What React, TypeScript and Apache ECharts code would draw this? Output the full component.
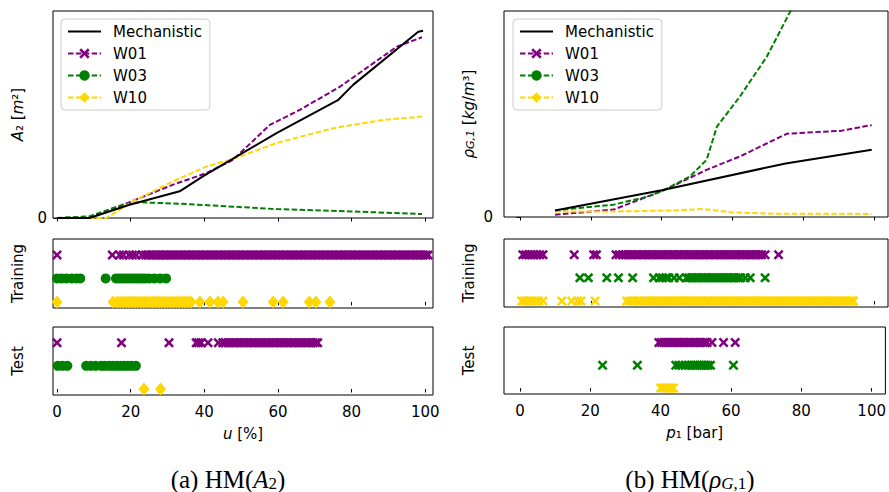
import React, { useEffect, useRef } from "react";
import * as echarts from "echarts";

// ---------- top-left: A2 vs u ----------
const mechA_x = [0, 8.8, 19.7, 33.3, 39.6, 59.6, 76.4, 80.4, 98.1, 99.4];
const mechA_y = [0, 0, 6.4, 12.9, 20.1, 41, 57.1, 64.3, 90, 90.5];
const w01A_x = [0, 9, 15, 20.2, 31.5, 40.6, 47.8, 57.8, 66, 76.9, 92.3, 99.1];
const w01A_y = [0, 0.3, 4, 8, 16.1, 21.7, 28.1, 45, 52.3, 63.5, 82.8, 87.3];
const w03A_x = [0, 8.8, 17.8, 22.3, 33.3, 59.6, 79.6, 99.1];
const w03A_y = [0, 0.8, 6.4, 7.6, 6.9, 4.3, 3.2, 1.9];
const w10A_x = [0, 13.4, 20.6, 31.5, 40.6, 47.8, 59.6, 75, 88.6, 99.1];
const w10A_y = [0, 0, 8, 17.7, 24.9, 28.5, 36.2, 43.4, 47.4, 49];

// ---------- top-right: rho vs p1 ----------
const mechB_x = [9.9, 40, 75, 99.3];
const mechB_y = [3.2, 13, 26, 32.6];
const w01B_x = [9.9, 26.4, 40.5, 52.7, 62.1, 75.3, 81, 90.4, 99.3];
const w01B_y = [1.1, 3.6, 12.9, 22.9, 29.4, 40.4, 41, 41.8, 44.6];
const w03B_x = [9.9, 26.4, 36.3, 40.5, 48, 52.7, 55.6, 62.1, 69.7, 76.3, 82];
const w03B_y = [3.2, 6, 10, 12.9, 19.7, 27.8, 43.9, 58.5, 77.9, 99.7, 115];
const w10B_x = [9.9, 24.5, 43.3, 51.8, 59.3, 71.6, 99.3];
const w10B_y = [2.7, 2.6, 3.2, 3.9, 2.3, 1.6, 1.5];

// ---------- scatter rows (left: u) ----------
const trainA_W01 = [0, 15, 17, 18, 19.5, 20.5, 21.5, 23, 24, 24.6, 25.3, 26, 26.7, 27.4, 28.1, 28.8, 29.5, 30.2, 30.9, 31.6, 32.3, 33, 33.7, 34.4, 35.1, 35.8, 36.5, 37.2, 37.9, 38.6, 39.3, 40, 40.7, 41.4, 42.1, 42.8, 43.5, 44.2, 44.9, 45.6, 46.3, 47, 47.7, 48.4, 49.1, 49.8, 50.5, 51.2, 51.9, 52.6, 53.3, 54, 54.7, 55.4, 56.1, 56.8, 57.5, 58.2, 58.9, 59.6, 60.3, 61, 61.7, 62.4, 63.1, 63.8, 64.5, 65.2, 65.9, 66.6, 67.3, 68, 68.7, 69.4, 70.1, 70.8, 71.5, 72.2, 72.9, 73.6, 74.3, 75, 75.7, 76.4, 77.1, 77.8, 78.5, 79.2, 79.9, 80.6, 81.3, 82, 82.7, 83.4, 84.1, 84.8, 85.5, 86.2, 86.9, 87.6, 88.3, 89, 89.7, 90.4, 91.1, 91.8, 92.5, 93.2, 93.9, 94.6, 95.3, 96, 96.7, 97.4, 98.1, 98.8, 99.5, 100.2, 100.8];
const trainA_W03 = [0, 1.2, 2.5, 4, 5.3, 6.3, 13.2, 16, 16.8, 17.6, 18.4, 19.2, 20, 20.8, 21.6, 22.4, 23.2, 24, 25, 26.4, 28, 29.6];
const trainA_W10 = [0, 15.2, 16.4, 17.2, 18, 18.8, 19.6, 20.4, 21.2, 22, 22.8, 23.6, 24.4, 25.2, 26, 26.8, 27.6, 28.4, 29.2, 30, 30.8, 31.6, 32.4, 33.2, 34, 34.8, 35.6, 36.4, 38.8, 41.5, 43.7, 45.1, 50.5, 58.7, 61.4, 68.5, 70.3, 74.1];
const testA_W01 = [0, 17.5, 30.4, 37.8, 38.4, 39.1, 41, 43.8, 45, 45.7, 46.4, 47.1, 47.8, 48.5, 49.2, 49.9, 50.6, 51.3, 52, 52.7, 53.4, 54.1, 54.8, 55.5, 56.2, 56.9, 57.6, 58.3, 59, 59.7, 60.4, 61.1, 61.8, 62.5, 63.2, 63.9, 64.6, 65.3, 66, 66.7, 67.4, 68.1, 68.8, 69.5, 70.2, 70.8];
const testA_W03 = [0.2, 1.5, 2.8, 7.9, 9.2, 10.5, 12, 13, 14.2, 15.2, 16.2, 17.2, 18.2, 19.2, 20.2, 21.4];
const testA_W10 = [23.6, 28.1];

// ---------- scatter rows (right: p1) ----------
const trainB_W01 = [0.8, 1.6, 2.4, 3.2, 4, 4.8, 5.6, 6.5, 15.3, 20.8, 21.6, 27.1, 28, 29, 29.7, 30.4, 31.1, 31.8, 32.5, 33.2, 33.9, 34.6, 35.3, 36, 36.7, 37.4, 38.1, 38.8, 39.5, 40.2, 40.9, 41.6, 42.3, 43, 43.7, 44.4, 45.1, 45.8, 46.5, 47.2, 47.9, 48.6, 49.3, 50, 50.7, 51.4, 52.1, 52.8, 53.5, 54.2, 54.9, 55.6, 56.3, 57, 57.7, 58.4, 59.1, 59.8, 60.5, 61.2, 61.9, 62.6, 63.3, 64, 64.7, 65.4, 66.1, 66.8, 67.5, 68.2, 69.2, 73];
const trainB_W03 = [16.9, 19.3, 24.5, 27.8, 31.8, 37.7, 39.3, 40.2, 41.2, 42, 43.5, 45, 47, 47.7, 48.4, 49.1, 49.8, 50.5, 51.2, 51.9, 52.6, 53.3, 54, 54.7, 55.4, 56.1, 56.8, 57.5, 58.2, 58.9, 59.6, 60.3, 61, 61.7, 62.3, 63.6, 65, 69.2];
const trainB_W10 = [0.5, 1.2, 2, 2.8, 3.6, 4.4, 5.2, 6.5, 11.8, 14.6, 16.2, 17.2, 21.2, 30.1, 31, 31.8, 32.5, 33.3, 34, 35, 35.7, 36.4, 37.1, 37.8, 38.5, 39.2, 39.9, 40.6, 41.3, 42, 42.7, 43.4, 44.1, 44.8, 45.5, 46.2, 46.9, 47.6, 48.3, 49, 49.7, 50.4, 51.1, 51.8, 52.5, 53.2, 53.9, 54.6, 55.3, 56, 56.7, 57.4, 58.1, 58.8, 59.5, 60.2, 60.9, 61.6, 62.3, 63, 63.7, 64.4, 65.1, 65.8, 66.5, 67.2, 67.9, 68.6, 69.3, 70, 70.7, 71.4, 72.1, 72.8, 73.5, 74.2, 74.9, 75.6, 76.3, 77, 77.7, 78.4, 79.1, 79.8, 80.5, 81.2, 81.9, 82.6, 83.3, 84, 84.7, 85.4, 86.1, 86.8, 87.5, 88.2, 88.9, 89.6, 90.3, 91, 91.7, 92.4, 93.1, 93.7, 94.2];
const testB_W01 = [39.5, 40.2, 40.9, 41.6, 42.3, 43, 43.7, 44.4, 45.1, 45.8, 46.5, 47.2, 47.9, 48.6, 49.3, 50, 50.7, 51.4, 52.1, 52.7, 53.2, 54.6, 57.9, 61.2];
const testB_W03 = [23.5, 33.4, 44.3, 45.2, 46, 47, 48, 48.7, 49.3, 49.9, 50.5, 51.1, 51.7, 52.3, 52.9, 53.5, 54.2, 60.7];
const testB_W10 = [40, 40.6, 41.2, 41.8, 42.4, 43, 43.6];

const xTicks = [0, 20, 40, 60, 80, 100];
const legendNames = ["Mechanistic", "W01", "W03", "W10"];

const PURPLE = "#800080";
const GREEN = "#008000";
const GOLD = "#FFD700";
const FONT = "DejaVu Sans";
const XSYM = "path://M0,1.8L1.8,0L5,3.2L8.2,0L10,1.8L6.8,5L10,8.2L8.2,10L5,6.8L1.8,10L0,8.2L3.2,5Z";
const DASH = [5.5, 2.4];

const zip = (xs: number[], ys: number[]) => xs.map((x, i) => [x, ys[i]]);
const row = (xs: number[], y: number) => xs.map((x) => [x, y]);

export default function App() {
  const ref = useRef<HTMLDivElement>(null);
  useEffect(() => {
    if (!ref.current) return;
    const chart = echarts.init(ref.current, undefined, { renderer: "svg" });

    const grids = [
      { left: 53, top: 11, width: 380, height: 207 },
      { left: 53, top: 239, width: 380, height: 69 },
      { left: 53, top: 327, width: 380, height: 68 },
      { left: 504, top: 11, width: 384, height: 206 },
      { left: 504, top: 239, width: 384, height: 68 },
      { left: 504, top: 327, width: 384, height: 67 },
    ].map((g) => ({ ...g, show: true, borderColor: "#000", borderWidth: 1, backgroundColor: "transparent" }));

    const mkX = (gi: number, min: number, max: number, labels: boolean, name?: string) => ({
      type: "value",
      gridIndex: gi,
      min,
      max,
      axisLine: { show: false },
      splitLine: { show: false },
      axisTick: { show: true, length: 3.5, lineStyle: { color: "#000", width: 1 }, customValues: xTicks },
      axisLabel: { show: labels, customValues: xTicks, fontSize: 15, color: "#000", fontFamily: FONT, margin: 9 },
      name: name || "",
      nameLocation: "middle",
      nameGap: 31,
      nameTextStyle: {
        fontSize: 15,
        color: "#000",
        fontFamily: FONT,
        rich: { i: { fontStyle: "italic", fontSize: 15, fontFamily: FONT, color: "#000" } },
      },
    });

    const richName = {
      fontSize: 15,
      color: "#000",
      fontFamily: FONT,
      rich: {
        i: { fontStyle: "italic", fontSize: 15, fontFamily: FONT, color: "#000" },
        sub: { fontStyle: "italic", fontSize: 11, fontFamily: FONT, color: "#000", verticalAlign: "bottom" },
      },
    };

    const mkYTop = (gi: number, name: string, margin: number) => ({
      type: "value",
      gridIndex: gi,
      min: 0,
      max: 100,
      axisLine: { show: false },
      splitLine: { show: false },
      axisTick: { show: true, length: 3.5, lineStyle: { color: "#000" }, customValues: [0] },
      axisLabel: { show: true, customValues: [0], fontSize: 15, color: "#000", fontFamily: FONT, margin },
      name,
      nameLocation: "middle",
      nameRotate: 90,
      nameGap: 28,
      nameTextStyle: richName,
    });

    const mkYRow = (gi: number, name: string) => ({
      type: "value",
      gridIndex: gi,
      min: -0.26,
      max: 2.68,
      axisLine: { show: false },
      splitLine: { show: false },
      axisTick: { show: false },
      axisLabel: { show: false },
      name,
      nameLocation: "middle",
      nameRotate: 90,
      nameGap: 28,
      nameTextStyle: { fontSize: 15, color: "#000", fontFamily: FONT },
    });

    const line = (name: string, xi: number, data: number[][], color: string, symbol: string, dashed: boolean) => ({
      type: "line",
      name,
      xAxisIndex: xi,
      yAxisIndex: xi,
      data,
      symbol,
      showSymbol: false,
      symbolSize: 10,
      clip: true,
      lineStyle: { color, width: 2, type: dashed ? DASH : "solid" },
      itemStyle: { color: name === "Mechanistic" ? "rgba(0,0,0,0)" : color },
      emphasis: { disabled: true },
      z: name === "Mechanistic" ? 3 : 2,
    });

    const scat = (name: string, gi: number, data: number[][], color: string, symbol: string, size: any) => ({
      type: "scatter",
      name,
      xAxisIndex: gi,
      yAxisIndex: gi,
      data,
      symbol,
      symbolSize: size,
      itemStyle: { color, opacity: 1 },
      emphasis: { disabled: true },
    });

    const legendBase = {
      orient: "vertical",
      data: legendNames,
      top: 19,
      padding: [5, 8, 5, 6],
      itemGap: 7,
      itemWidth: 33,
      itemHeight: 13,
      backgroundColor: "rgba(255,255,255,0.85)",
      borderColor: "#cccccc",
      borderWidth: 1,
      borderRadius: 4,
      selectedMode: false,
      textStyle: { fontSize: 15, color: "#000", fontFamily: FONT, padding: [0, 0, 0, 7] },
    };

    const capStyle = (text: string, x: number) => ({
      type: "text",
      x,
      y: 479,
      style: {
        text,
        fontFamily: "Liberation Serif",
        fontSize: 25,
        fill: "#000",
        align: "center",
        verticalAlign: "middle",
        rich: {
          i: { fontStyle: "italic", fontFamily: "Liberation Serif", fontSize: 25, fill: "#000" },
          s: { fontFamily: "Liberation Serif", fontSize: 17, fill: "#000", verticalAlign: "bottom" },
          si: { fontStyle: "italic", fontFamily: "Liberation Serif", fontSize: 17, fill: "#000", verticalAlign: "bottom" },
        },
      },
    });

    chart.setOption({
      animation: false,
      backgroundColor: "#fff",
      grid: grids,
      xAxis: [
        mkX(0, -1.1, 102.1, false),
        mkX(1, -1.1, 102.1, false),
        mkX(2, -1.1, 102.1, true, "{i|u} [%]"),
        mkX(3, -4.52, 103.9, false),
        mkX(4, -4.52, 103.9, false),
        mkX(5, -4.52, 103.9, true, "{i|p}₁ [bar]"),
      ],
      yAxis: [
        mkYTop(0, "{i|A}₂ [{i|m}²]", 6),
        mkYRow(1, "Training"),
        mkYRow(2, "Test"),
        mkYTop(3, "{i|ρ}{sub|G,1} [{i|kg}/{i|m}³]", 11),
        mkYRow(4, "Training"),
        mkYRow(5, "Test"),
      ],
      legend: [
        { ...legendBase, left: 61 },
        { ...legendBase, left: 513 },
      ],
      series: [
        line("Mechanistic", 0, zip(mechA_x, mechA_y), "#000", "none", false),
        line("W01", 0, zip(w01A_x, w01A_y), PURPLE, XSYM, true),
        line("W03", 0, zip(w03A_x, w03A_y), GREEN, "circle", true),
        line("W10", 0, zip(w10A_x, w10A_y), GOLD, "diamond", true),
        line("Mechanistic", 3, zip(mechB_x, mechB_y), "#000", "none", false),
        line("W01", 3, zip(w01B_x, w01B_y), PURPLE, XSYM, true),
        line("W03", 3, zip(w03B_x, w03B_y), GREEN, "circle", true),
        line("W10", 3, zip(w10B_x, w10B_y), GOLD, "diamond", true),

        scat("a-train-W01", 1, row(trainA_W01, 2), PURPLE, XSYM, 10),
        scat("a-train-W03", 1, row(trainA_W03, 1), GREEN, "circle", 10),
        scat("a-train-W10", 1, row(trainA_W10, 0), GOLD, "diamond", [11, 13]),
        scat("a-test-W01", 2, row(testA_W01, 2), PURPLE, XSYM, 10),
        scat("a-test-W03", 2, row(testA_W03, 1), GREEN, "circle", 10),
        scat("a-test-W10", 2, row(testA_W10, 0), GOLD, "diamond", [11, 13]),

        scat("b-train-W01", 4, row(trainB_W01, 2), PURPLE, XSYM, 10),
        scat("b-train-W03", 4, row(trainB_W03, 1), GREEN, XSYM, 10),
        scat("b-train-W10", 4, row(trainB_W10, 0), GOLD, XSYM, 10),
        scat("b-test-W01", 5, row(testB_W01, 2), PURPLE, XSYM, 10),
        scat("b-test-W03", 5, row(testB_W03, 1), GREEN, XSYM, 10),
        scat("b-test-W10", 5, row(testB_W10, 0), GOLD, XSYM, 10),
      ],
      graphic: [
        capStyle("(a) HM({i|A}{s|2})", 228),
        capStyle("(b) HM({i|ρ}{si|G}{s|,1})", 690),
      ],
    });
    return () => chart.dispose();
  }, []);
  return <div ref={ref} style={{ position: "fixed", left: 0, top: 0, width: 889, height: 492 }} />;
}
